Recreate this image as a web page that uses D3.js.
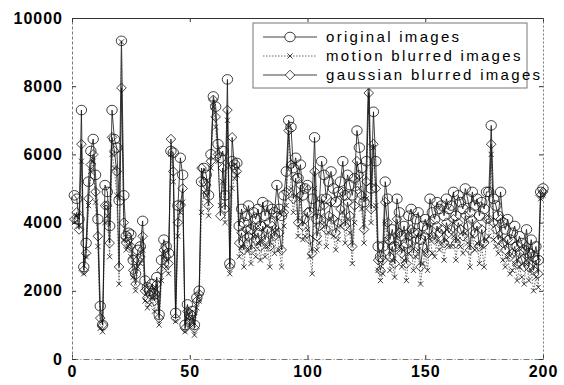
<!DOCTYPE html>
<html>
<head>
<meta charset="utf-8">
<script src="https://cdn.jsdelivr.net/npm/d3@7"></script>
<style>
  body { margin: 0; background: #fff; }
  svg { display: block; font-family: "Liberation Sans", Arial, sans-serif; }
</style>
</head>
<body>
<div id="chart"></div>
<script>
// 1. DATA: one value per image (image index 1..200)
//----------------------------------------------------------------------
const original = [
  4800, 4700, 4100, 7300, 2700, 3400, 5200, 6100, 6450, 5400,
  4100, 1550, 1000, 5100, 4900, 3900, 7300, 6450, 6200, 4650,
  9330, 4800, 3600, 3700, 3650, 2900, 2500, 3200, 3300, 4050,
  2300, 2100, 2000, 2200, 1900, 2400, 1300, 2900, 3500, 3300,
  3100, 6100, 6050, 1350, 4500, 5900, 5400, 1000, 1600, 1300,
  1400, 1000, 1800, 2000, 5200, 5600, 5400, 4800, 6000, 7700,
  7400, 6300, 5900, 6100, 4800, 8200, 2800, 5800, 5700, 5750,
  3900, 4400, 4000, 4200, 4500, 3800, 4300, 4100, 4400, 3900,
  4600, 4200, 4500, 4000, 4400, 4300, 5100, 4400, 4200, 4800,
  5500, 7000, 6800, 5600, 5900, 5300, 5700, 4800, 5000, 5100,
  4300, 4700, 6500, 4100, 4500, 5800, 5400, 4700, 5200, 5500,
  5000, 4600, 4900, 5200, 5800, 4800, 5400, 5100, 4800, 5300,
  6700, 6200, 5600, 4600, 5800, 8600, 5000, 7250, 5800, 3300,
  3000, 3300, 5200, 4700, 3500, 3800, 3300, 4700, 4300, 3600,
  3900, 3400, 4200, 4400, 3700, 4100, 4300, 3500, 3900, 4100,
  3800, 4700, 4300, 4100, 4600, 4400, 4500, 4200, 4700, 4400,
  4500, 4900, 4200, 4800, 4600, 4400, 5000, 4700, 4300, 4900,
  4500, 4700, 4200, 4600, 4400, 4900, 4900, 6850, 4700, 4500,
  4200, 4900, 4000, 3800, 4100, 3500, 3700, 3900, 3300, 3600,
  3400, 3200, 3800, 3100, 3500, 3000, 3300, 2900, 4900, 5000
];

const motion = [
  4000, 4200, 3900, 5800, 2500, 3000, 4500, 5500, 5800, 4600,
  3300,  900,  800, 4000, 4200, 3000, 6000, 5600, 4800, 2200,
  9300, 3500, 3200, 3300, 3000, 2400, 2000, 2700, 2800, 3200,
  1700, 1500, 1600, 1800, 1400, 1900, 1000, 2300, 3000, 2700,
  2500, 6000, 5200, 1100, 3600, 4300, 4600,  800, 1200, 1000,
  1100,  700, 1500, 1700, 4300, 4900, 4800, 4200, 5600, 7400,
  6800, 5800, 4500, 5200, 4000, 7000, 2500, 5000, 5300, 5400,
  3000, 3300, 2700, 3500, 3200, 2800, 3600, 3000, 3400, 2900,
  3500, 3000, 3300, 2700, 3600, 3100, 3800, 3200, 2700, 3900,
  4500, 6800, 5000, 4300, 4800, 3600, 4700, 3500, 3600, 3800,
  3000, 2500, 5000, 3200, 3400, 4200, 4000, 3300, 3700, 4100,
  3600, 3200, 3500, 3900, 4300, 3400, 4100, 3700, 2800, 4000,
  5300, 5000, 4400, 3400, 4700, 8200, 4000, 6200, 4500, 2600,
  2300, 2500, 4000, 3500, 2600, 2900, 2400, 3600, 3300, 2700,
  2900, 2300, 3100, 3300, 2600, 3000, 3200, 2200, 2800, 3100,
  2600, 3600, 3100, 3000, 3500, 3200, 3400, 2900, 3500, 3300,
  3300, 3600, 2900, 3500, 3300, 3100, 3700, 3400, 2700, 3600,
  3200, 3400, 2800, 3300, 2700, 3500, 3600, 6000, 3500, 3300,
  3100, 3600, 2900, 2700, 3000, 2500, 2600, 2800, 2300, 2700,
  2400, 2200, 2900, 2300, 2600, 2000, 2400, 2100, 4700, 4800
];

const gaussian = [
  4100, 4300, 3800, 6300, 2600, 3100, 4700, 5700, 6000, 4900,
  3600, 1200, 1000, 4500, 4500, 3400, 6500, 6100, 5500, 2700,
  7950, 4000, 3400, 3500, 3300, 2600, 2200, 2900, 3000, 3600,
  2000, 1800, 1900, 2000, 1700, 2200, 1200, 2600, 3200, 3000,
  2800, 6450, 5500, 1200, 4000, 4500, 5000,  900, 1400, 1100,
  1300,  900, 1700, 1900, 5600, 5200, 5100, 4500, 5800, 7600,
  7100, 6000, 4200, 5600, 4400, 7300, 2700, 6500, 5600, 5500,
  3400, 3700, 3200, 3800, 3600, 3200, 3900, 3500, 3700, 3300,
  3900, 3500, 3800, 3300, 3900, 3600, 4200, 3700, 3200, 4300,
  4900, 6700, 5700, 4700, 5300, 4000, 5100, 3900, 4100, 4300,
  3500, 3100, 5500, 3600, 3900, 4700, 4500, 3800, 4200, 4600,
  4100, 3700, 4000, 4400, 4900, 3900, 4600, 4200, 3300, 4500,
  5800, 5400, 4800, 3800, 5200, 7800, 4400, 6300, 5000, 2900,
  2600, 2900, 4600, 4000, 3000, 3300, 2800, 4100, 3700, 3100,
  3300, 2800, 3600, 3800, 3100, 3500, 3700, 2700, 3300, 3600,
  3100, 4000, 3600, 3500, 3900, 3700, 3800, 3400, 4000, 3700,
  3800, 4100, 3400, 4000, 3800, 3600, 4200, 3900, 3200, 4100,
  3700, 3900, 3300, 3800, 3400, 4100, 4100, 6300, 4000, 3800,
  3500, 4100, 3400, 3200, 3500, 3000, 3100, 3300, 2800, 3100,
  2900, 2700, 3300, 2700, 3100, 2600, 2900, 2500, 4800, 4900
];

const imageIndex = d3.range(1, original.length + 1);
const xTicks = [0, 50, 100, 150, 200];
const yTicks = [0, 2000, 4000, 6000, 8000, 10000];
const legendLabels = ["original images", "motion blurred images", "gaussian blurred images"];

// 2. SVG + margins
//----------------------------------------------------------------------
const svgWidth = 564;
const svgHeight = 385;

const margin = { top: 18, right: 21, bottom: 26, left: 72 };
const chartWidth = svgWidth - margin.left - margin.right;
const chartHeight = svgHeight - margin.top - margin.bottom;

const svg = d3.select("#chart")
  .append("svg")
  .attr("width", svgWidth)
  .attr("height", svgHeight);

const chartGroup = svg.append("g")
  .attr("transform", `translate(${margin.left},${margin.top})`);

// 3. scales
const xScale = d3.scaleLinear().domain([0, 200]).range([0, chartWidth]);
const yScale = d3.scaleLinear().domain([0, 10000]).range([chartHeight, 0]);

// 4. axes (ticks point inward, box on all four sides)
const bottomAxis = d3.axisBottom(xScale).tickValues(xTicks).tickFormat(d3.format("d"))
  .tickSize(-4).tickSizeOuter(0).tickPadding(7);
const leftAxis = d3.axisLeft(yScale).tickValues(yTicks).tickFormat(d3.format("d"))
  .tickSize(-4).tickSizeOuter(0).tickPadding(9);
const topAxis = d3.axisTop(xScale).tickValues(xTicks).tickSize(-4).tickSizeOuter(0).tickFormat("");
const rightAxis = d3.axisRight(yScale).tickValues(yTicks).tickSize(-4).tickSizeOuter(0).tickFormat("");

const gBottom = chartGroup.append("g")
  .attr("transform", `translate(0,${chartHeight})`)
  .call(bottomAxis);
const gLeft = chartGroup.append("g").call(leftAxis);
const gTop = chartGroup.append("g").call(topAxis);
const gRight = chartGroup.append("g")
  .attr("transform", `translate(${chartWidth},0)`)
  .call(rightAxis);

[gBottom, gLeft, gTop, gRight].forEach(g => {
  g.selectAll(".tick line").attr("stroke", "#333");
  g.selectAll("text")
    .attr("fill", "#000")
    .attr("font-size", "16px")
    .attr("font-weight", "bold")
    .attr("letter-spacing", "1px")
    .attr("font-family", "\"Liberation Sans\", Arial, sans-serif");
});
gTop.select(".domain").attr("stroke", "#333");
gBottom.select(".domain").attr("stroke", "#777").attr("stroke-dasharray", "6,2,1,2");
gLeft.select(".domain").attr("stroke", "#777").attr("stroke-dasharray", "3,2");
gRight.select(".domain").attr("stroke", "#777").attr("stroke-dasharray", "2,2");

// 5. series: lines + markers
const series = [
  { name: "original", values: original, dash: null, marker: "circle" },
  { name: "motion", values: motion, dash: "1.5,1.5", marker: "x" },
  { name: "gaussian", values: gaussian, dash: null, marker: "diamond" }
];

const markerPath = {
  x: "M-2.6,-2.6L2.6,2.6M-2.6,2.6L2.6,-2.6",
  diamond: "M0,-4.8L4.8,0L0,4.8L-4.8,0Z"
};

const line = d3.line()
  .x((d, i) => xScale(imageIndex[i]))
  .y(d => yScale(d));

function drawMarker(sel, type) {
  if (type === "circle") {
    sel.append("ellipse").attr("rx", 5.2).attr("ry", 4.8);
  } else {
    sel.append("path").attr("d", markerPath[type]);
  }
}

series.forEach(s => {
  const g = chartGroup.append("g").attr("class", s.name);

  g.append("path")
    .datum(s.values)
    .attr("d", line)
    .attr("fill", "none")
    .attr("stroke", s.dash ? "#444" : "#111")
    .attr("stroke-width", 0.8)
    .attr("stroke-dasharray", s.dash);

  const pts = g.selectAll("g.pt")
    .data(s.values)
    .enter()
    .append("g")
    .attr("class", "pt")
    .attr("transform", (d, i) => `translate(${xScale(imageIndex[i])},${yScale(d)})`)
    .attr("fill", "none")
    .attr("stroke", "#111")
    .attr("stroke-width", 0.8);

  drawMarker(pts, s.marker);
});

// 6. legend
const legend = svg.append("g").attr("transform", "translate(253,23)");

legend.append("rect")
  .attr("width", 274)
  .attr("height", 65)
  .attr("fill", "#fff")
  .attr("stroke", "#777")
  .attr("stroke-width", 1);

series.forEach((s, i) => {
  const row = legend.append("g").attr("transform", `translate(0,${14 + i * 19})`);
  row.append("line")
    .attr("x1", 10).attr("x2", 64)
    .attr("stroke", s.dash ? "#444" : "#111")
    .attr("stroke-width", 0.8)
    .attr("stroke-dasharray", s.dash);
  const m = row.append("g")
    .attr("transform", "translate(37,0)")
    .attr("fill", "#fff")
    .attr("stroke", "#111")
    .attr("stroke-width", 0.8);
  drawMarker(m, s.marker);
  row.append("text")
    .attr("x", 73)
    .attr("dy", "0.35em")
    .attr("font-size", "15px")
    .attr("letter-spacing", "2.3px")
    .attr("fill", "#000")
    .text(legendLabels[i]);
});
</script>
</body>
</html>
